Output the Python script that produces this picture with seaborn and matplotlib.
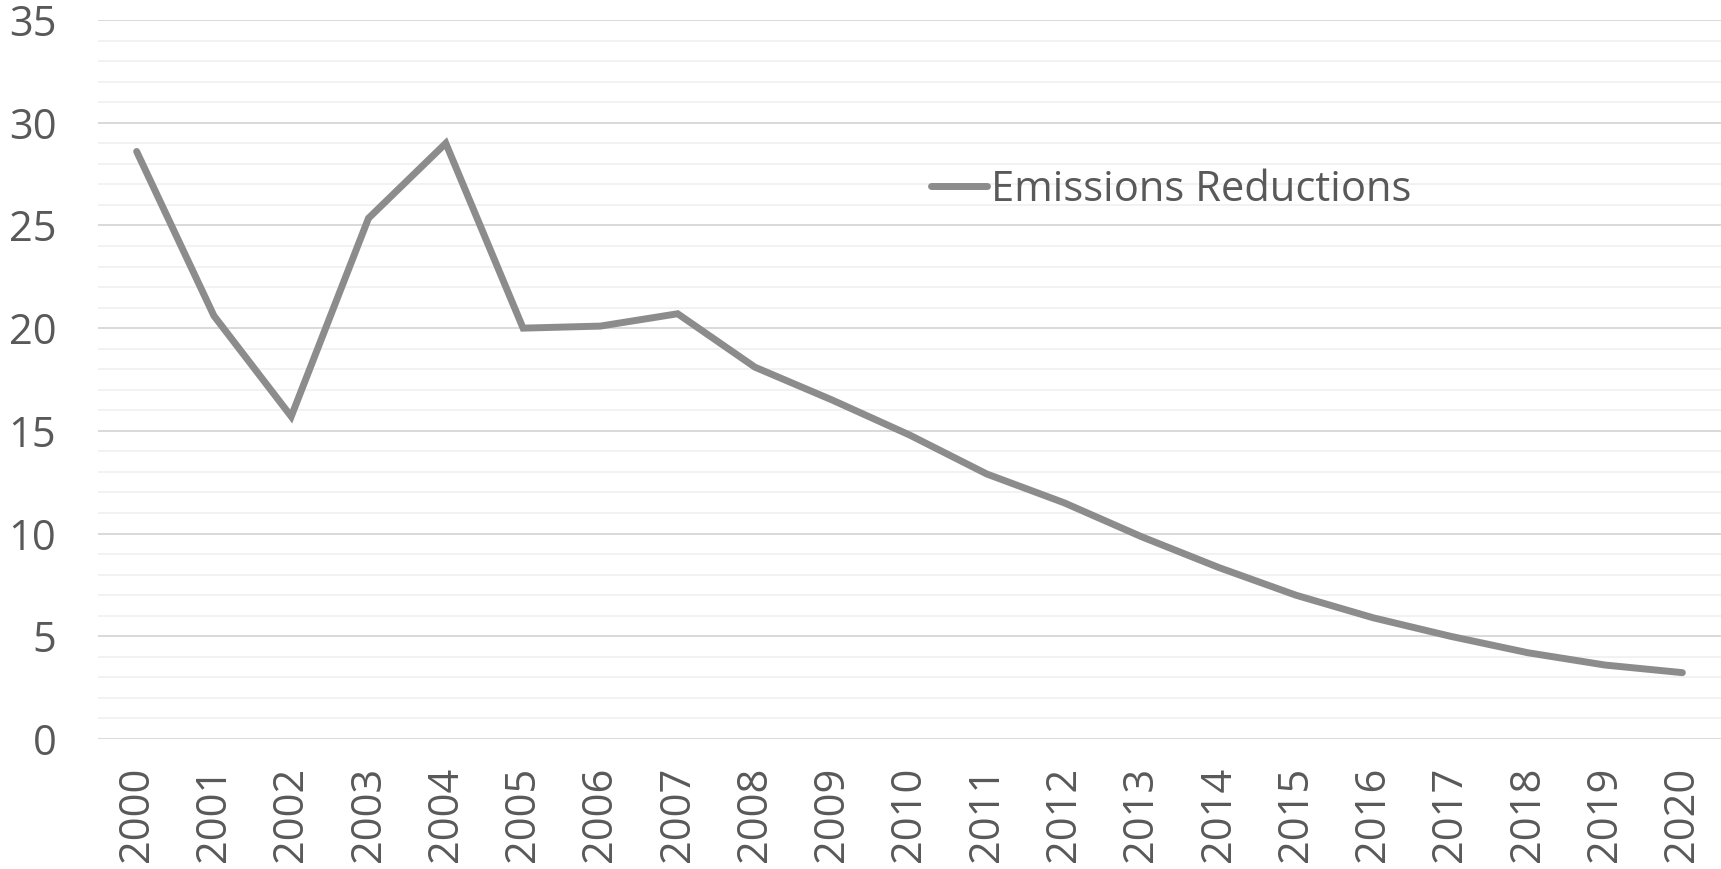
import matplotlib
matplotlib.use("Agg")
import matplotlib.pyplot as plt
import seaborn as sns
import pandas as pd
from matplotlib.ticker import MultipleLocator

years = [str(y) for y in range(2000, 2021)]
emissions = [28.6, 20.6, 15.7, 25.35, 29.0, 20.0, 20.1, 20.7, 18.1, 16.5,
             14.8, 12.9, 11.5, 9.85, 8.35, 7.0, 5.9, 5.0, 4.2, 3.6, 3.23]
series_name = "Emissions Reductions"

df = pd.DataFrame({"Year": years, "Value": emissions})
df["pos"] = range(len(years))

sns.set_theme(style="white")
plt.rcParams['font.family'] = ['Open Sans', 'DejaVu Sans']

fig = plt.figure(figsize=(17.21, 8.69), dpi=100)
ax = fig.add_axes([98 / 1721, 1 - 739 / 869, 1 - 98 / 1721, (739 - 20) / 869])

sns.lineplot(data=df, x="pos", y="Value", ax=ax, color="#8c8c8c", linewidth=5.0,
             label=series_name, solid_capstyle="round", solid_joinstyle="miter")

ax.set_xlim(-0.5, len(years) - 0.5)
ax.set_ylim(0, 35)
ax.set_xticks(range(len(years)))
ax.set_xticklabels(years, rotation=90)
ax.yaxis.set_major_locator(MultipleLocator(5))
ax.yaxis.set_minor_locator(MultipleLocator(1))
ax.grid(which="major", axis="y", color="#d9d9d9", linewidth=1.4)
ax.grid(which="minor", axis="y", color="#f2f2f2", linewidth=1.4)
ax.grid(False, axis="x")
ax.set_axisbelow(True)
for s in ax.spines.values():
    s.set_visible(False)
ax.tick_params(axis="both", which="both", length=0, colors="#595959", labelsize=30)
ax.tick_params(axis="y", pad=30)
ax.tick_params(axis="x", pad=20)
ax.set_xlabel("")
ax.set_ylabel("")

leg = ax.legend(loc="center left", bbox_to_anchor=((931 - 98) / 1623, 1 - (190 - 20) / 719),
                frameon=False, fontsize=30, handlelength=1.35, handletextpad=0.08,
                borderaxespad=0, borderpad=0)
for t in leg.get_texts():
    t.set_color("#595959")

fig.savefig("out.png", dpi=100)
